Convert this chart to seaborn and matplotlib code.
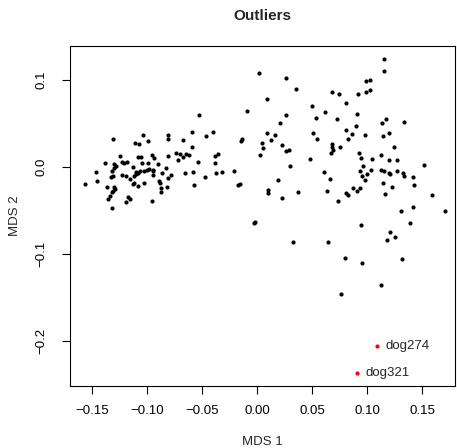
import matplotlib
matplotlib.use("Agg")
import matplotlib.pyplot as plt
import seaborn as sns
import pandas as pd

# MDS coordinates
mds1 = [
    -0.1309, -0.1036, -0.1109, -0.1075, -0.0991, -0.0809, -0.0809, -0.1248, -0.1385, -0.1300,
    -0.1227, -0.1215, -0.1182, -0.1082, -0.1055, -0.0957, -0.0939, -0.1045, -0.0991, -0.0905,
    -0.0809, -0.1300, -0.1285, -0.1324, -0.1127, -0.1005, -0.1030, -0.0982, -0.0952, -0.0945,
    -0.1103, -0.1082, -0.1067, -0.0830, -0.1467, -0.1315, -0.1333, -0.1233, -0.1197, -0.1158,
    -0.1121, -0.1106, -0.0945, -0.0870, -0.1461, -0.1567, -0.1118, -0.1130, -0.1088, -0.1030,
    -0.0891, -0.0885, -0.0809, -0.1364, -0.1303, -0.1294, -0.1315, -0.1324, -0.0876, -0.0879,
    -0.0825, -0.1339, -0.1361, -0.1173, -0.1158, -0.1194, -0.0961, -0.1324,
    -0.0530, -0.0091, -0.0596, -0.0469, -0.0405, -0.0673, -0.0136, -0.0148, -0.0596, -0.0742,
    -0.0703, -0.0673, -0.0651, -0.0624, -0.0718, -0.0536, -0.0385, -0.0357, -0.0388, -0.0785,
    -0.0661, -0.0585, -0.0479, -0.0373, -0.0324, -0.0210, -0.0575, -0.0178, -0.0157,
    0.0015, 0.0261, 0.0355, 0.0676, 0.0743, 0.0803, 0.0091, 0.0494, 0.0618, 0.0258,
    0.0533, 0.0724, 0.0203, 0.0803, 0.0506, 0.0540, 0.0827, 0.0091, 0.0161, 0.0122,
    0.0040, 0.0049, 0.0222, 0.0261, 0.0291, 0.0022, 0.0676, 0.0679, 0.0685, 0.0667,
    0.0749, 0.0479,
    0.0297, 0.0606, 0.0664, 0.0188, 0.0100, 0.0094, 0.0373, 0.0634, 0.0224, 0.0806,
    0.0822, 0.0734, -0.0021, -0.0033, 0.0327, 0.0640,
    0.1155, 0.1149, 0.0985, 0.1024, 0.0913, 0.0988, 0.1024, 0.0906, 0.1131, 0.1170,
    0.1336, 0.0897, 0.0858, 0.0982, 0.1140, 0.1200, 0.1240, 0.0925, 0.0946, 0.1040,
    0.1122, 0.1194, 0.1267,
    0.1515, 0.0961, 0.0931, 0.1036, 0.0994, 0.0952, 0.0979, 0.1125, 0.1155, 0.1200,
    0.1209, 0.1270, 0.1327, 0.1330, 0.1418, 0.1145, 0.1421, 0.1225, 0.0870, 0.0931,
    0.0909, 0.1158, 0.1591, 0.1309, 0.1418, 0.1703, 0.0940, 0.1391, 0.1203, 0.1254,
    0.1182, 0.0794, 0.0952, 0.1315, 0.1125, 0.0764,
]
mds2 = [
    0.0318, 0.0368, 0.0276, 0.0261, 0.0299, 0.0359, 0.0315, 0.0126, 0.0046, 0.0034,
    0.0051, 0.0039, 0.0057, 0.0111, 0.0111, 0.0138, 0.0103, 0.0039, 0.0046, 0.0031,
    0.0123, -0.0011, 0.0011, -0.0046, 0.0000, -0.0038, -0.0049, -0.0026, -0.0038, -0.0049,
    -0.0057, -0.0069, -0.0049, -0.0019, -0.0064, -0.0107, -0.0115, -0.0095, -0.0103, -0.0141,
    -0.0103, -0.0084, -0.0095, -0.0076, -0.0161, -0.0199, -0.0184, -0.0199, -0.0218, -0.0191,
    -0.0164, -0.0191, -0.0134, -0.0233, -0.0237, -0.0256, -0.0276, -0.0287, -0.0245, -0.0287,
    -0.0230, -0.0337, -0.0375, -0.0352, -0.0368, -0.0406, -0.0395, -0.0475,
    0.0594, 0.0644, 0.0395, 0.0353, 0.0395, 0.0307, 0.0322, 0.0292, 0.0230, 0.0161,
    0.0143, 0.0115, 0.0143, 0.0138, 0.0073, 0.0051, 0.0123, 0.0143, 0.0042, -0.0095,
    -0.0072, -0.0057, -0.0118, -0.0076, -0.0057, -0.0046, -0.0211, -0.0211, -0.0199,
    0.1080, 0.1023, 0.0893, 0.0862, 0.0832, 0.0729, 0.0778, 0.0698, 0.0629, 0.0598,
    0.0560, 0.0548, 0.0502, 0.0418, 0.0387, 0.0322, 0.0318, 0.0384, 0.0364, 0.0307,
    0.0268, 0.0211, 0.0245, 0.0184, 0.0192, 0.0138, 0.0257, 0.0222, 0.0192, 0.0161,
    0.0226, 0.0089,
    0.0008, -0.0057, -0.0141, -0.0153, -0.0268, -0.0299, -0.0294, -0.0276, -0.0363, -0.0306,
    -0.0329, -0.0391, -0.0632, -0.0647, -0.0866, -0.0862,
    0.1238, 0.1100, 0.0981, 0.0993, 0.0839, 0.0855, 0.0878, 0.0606, 0.0506, 0.0548,
    0.0514, 0.0468, 0.0372, 0.0368, 0.0353, 0.0384, 0.0223, 0.0161, 0.0103, 0.0092,
    0.0134, 0.0080, 0.0080,
    0.0016, 0.0011, -0.0046, -0.0041, -0.0080, -0.0103, -0.0149, -0.0034, -0.0049, -0.0069,
    -0.0088, -0.0046, -0.0072, -0.0103, -0.0122, -0.0187, -0.0207, -0.0230, -0.0241, -0.0241,
    -0.0280, -0.0318, -0.0326, -0.0510, -0.0464, -0.0513, -0.0667, -0.0650, -0.0747, -0.0805,
    -0.0843, -0.1053, -0.1107, -0.1064, -0.1360, -0.1464,
]

outlier_names = ["dog274", "dog321"]
outlier_mds1 = [0.1085, 0.0909]
outlier_mds2 = [-0.2057, -0.2375]

x_ticks = [-0.15, -0.10, -0.05, 0.00, 0.05, 0.10, 0.15]
y_ticks = [-0.2, -0.1, 0.0, 0.1]

df = pd.DataFrame({"MDS 1": mds1, "MDS 2": mds2})
out = pd.DataFrame({"MDS 1": outlier_mds1, "MDS 2": outlier_mds2, "name": outlier_names})

sns.set_style("ticks")
plt.rcParams["font.family"] = ["Liberation Sans", "DejaVu Sans"]

W, H = 457, 448
fig = plt.figure(figsize=(W / 100, H / 100), dpi=100)
# plot box in pixels: left 70, right 455, top 45.7, bottom 385.7
ax = fig.add_axes([70 / W, (H - 385.7) / H, 385 / W, 340 / H])

sns.scatterplot(data=df, x="MDS 1", y="MDS 2", color="black", s=9,
                linewidth=0, ax=ax, legend=False)
sns.scatterplot(data=out, x="MDS 1", y="MDS 2", color="red", s=9,
                linewidth=0, ax=ax, legend=False)
for _, r in out.iterrows():
    ax.annotate(r["name"], (r["MDS 1"], r["MDS 2"]), xytext=(6, 0),
                textcoords="offset points", va="center", ha="left", fontsize=9.5)

ax.set_xlim(-0.1703, 0.1797)
ax.set_ylim(-0.2517, 0.1391)
ax.set_xticks(x_ticks)
ax.set_xticklabels([f"{t:.2f}".replace("-", "\u2212") for t in x_ticks])
ax.set_yticks(y_ticks)
ax.set_yticklabels([f"{t:.1f}".replace("-", "\u2212") for t in y_ticks],
                   rotation=90, va="center")
ax.tick_params(direction="out", length=5.5, width=0.8, labelsize=9.5, colors="black")
ax.tick_params(axis="x", pad=8.5)
ax.tick_params(axis="y", pad=10.5)
for sp in ax.spines.values():
    sp.set_visible(True)
    sp.set_linewidth(0.8)
    sp.set_color("black")
ax.set_xlabel("")
ax.set_ylabel("")

fig.text(262.5 / W, 1 - 445 / H, "MDS 1", ha="center", va="baseline", fontsize=9.5)
fig.text(15 / W, 1 - 215.7 / H, "MDS 2", ha="center", va="center", rotation=90, fontsize=9.5)
fig.text(262.5 / W, 1 - 20 / H, "Outliers", ha="center", va="baseline",
         fontsize=11, fontweight="bold")

fig.savefig("out.png", dpi=100, facecolor="white")
